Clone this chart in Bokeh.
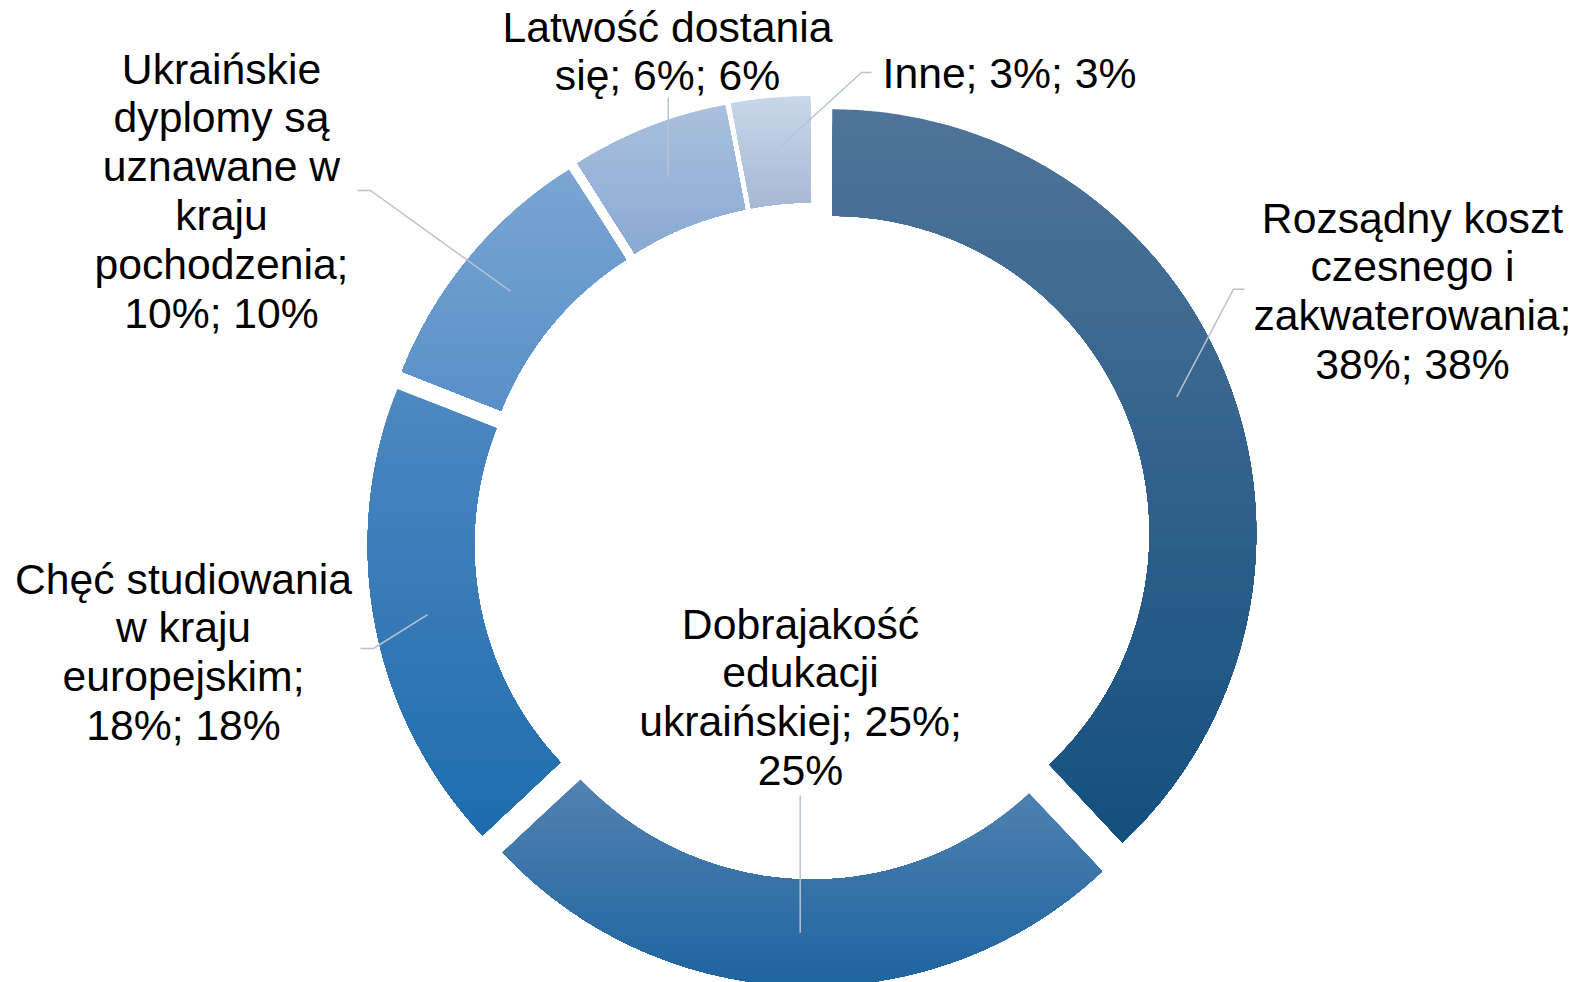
import numpy as np
from bokeh.plotting import figure
from bokeh.models import Range1d, ColumnDataSource
from bokeh.core.properties import value
from bokeh.embed import file_html
from bokeh.resources import INLINE

# ---------------- data ----------------
categories = [
    "Rozsądny koszt czesnego i zakwaterowania",
    "Dobrajakość edukacji ukraińskiej",
    "Chęć studiowania w kraju europejskim",
    "Ukraińskie dyplomy są uznawane w kraju pochodzenia",
    "Latwość dostania się",
    "Inne",
]
values = [38, 25, 18, 10, 6, 3]
# wrapped label texts as displayed ("category; value; percent")
label_templates = [
    "Rozsądny koszt\nczesnego i\nzakwaterowania;\n{v}%; {v}%",
    "Dobrajakość\nedukacji\nukraińskiej; {v}%;\n{v}%",
    "Chęć studiowania\nw kraju\neuropejskim;\n{v}%; {v}%",
    "Ukraińskie\ndyplomy są\nuznawane w\nkraju\npochodzenia;\n{v}%; {v}%",
    "Latwość dostania\nsię; {v}%; {v}%",
    "Inne; {v}%; {v}%",
]
# gradient colours (top -> bottom) per slice
top_colors = ["#4f7499", "#5282b0", "#4d88c1", "#7aa5d2", "#aac0de", "#c9d7ea"]
bottom_colors = ["#13507f", "#1d64a0", "#1e6cad", "#5890c8", "#89a9d2", "#a6b8d4"]

# ---------------- layout constants (screen pixels) ----------------
W, H = 1575, 982
CX, CY = 812.0, -540.6
R_OUT, R_IN, EXPLODE = 424.0, 317.3, 21.2
FONT = "Liberation Sans"
FSIZE = "42.7px"
LINE_H = 48.9
# label anchor: (center x, first line y) in screen px
label_pos = [(1412, 217), (800, 623), (183, 578), (221, 68), (667, 26), (1009, 72)]
# leader line start points (screen px) before the slice point
leader_starts = [
    [(1244, 288.7), (1233, 288.7)],
    [(None, 795)],
    [(360, 648), (373, 648)],
    [(357, 190), (370, 190)],
    [(None, 97)],
    [(871, 72), (861, 72)],
]


def hex2rgb(h):
    h = h.lstrip("#")
    return np.array([int(h[i:i + 2], 16) for i in (0, 2, 4)], dtype=float)


def mix(c0, c1, t):
    a, b = hex2rgb(c0), hex2rgb(c1)
    c = a + (b - a) * t
    return "#%02x%02x%02x" % tuple(int(round(v)) for v in c)


def sector(cx, cy, r0, r1, t0, t1, n=240):
    t = np.linspace(t0, t1, n)
    xo = cx + r1 * np.sin(t)
    yo = cy + r1 * np.cos(t)
    ti = t[::-1]
    xi = cx + r0 * np.sin(ti)
    yi = cy + r0 * np.cos(ti)
    return np.r_[xo, xi], np.r_[yo, yi]


def clip_below(xs, ys, yc):
    ox, oy = [], []
    n = len(xs)
    for i in range(n):
        x1, y1 = xs[i], ys[i]
        x2, y2 = xs[(i + 1) % n], ys[(i + 1) % n]
        in1, in2 = y1 <= yc, y2 <= yc
        if in1:
            ox.append(x1)
            oy.append(y1)
        if in1 != in2:
            t = (yc - y1) / (y2 - y1)
            ox.append(x1 + t * (x2 - x1))
            oy.append(yc)
    return ox, oy


total = float(sum(values))
fr = np.array(values) / total
cum = np.r_[0, np.cumsum(fr)]

p = figure(width=W, height=H, x_range=Range1d(0, W), y_range=Range1d(-H, 0),
           x_axis_type=None, y_axis_type=None, toolbar_location=None, output_backend="svg",
           title=None, min_border=0)
p.outline_line_color = None
p.background_fill_color = "white"
p.border_fill_color = "white"

band_xs, band_ys, band_cols = [], [], []
slice_pts = []
NB = 50
for i, v in enumerate(values):
    t0, t1 = 2 * np.pi * cum[i], 2 * np.pi * cum[i + 1]
    tm = 0.5 * (t0 + t1)
    cx = CX + EXPLODE * np.sin(tm)
    cy = CY + EXPLODE * np.cos(tm)
    xs, ys = sector(cx, cy, R_IN, R_OUT, t0, t1)
    ytop, ybot = ys.max(), ys.min()
    for k in range(NB):
        yc = ytop - k * (ytop - ybot) / NB
        bx, by = (list(xs), list(ys)) if k == 0 else clip_below(xs, ys, yc)
        if len(bx) < 3:
            continue
        band_xs.append(bx)
        band_ys.append(by)
        band_cols.append(mix(top_colors[i], bottom_colors[i], (k + 0.5) / NB))
    rm = 0.5 * (R_IN + R_OUT)
    slice_pts.append((cx + rm * np.sin(tm), cy + rm * np.cos(tm)))

p.patches("xs", "ys", fill_color="c", line_color=None,
          source=ColumnDataSource(dict(xs=band_xs, ys=band_ys, c=band_cols)))

# leader lines
lx, ly = [], []
for i, starts in enumerate(leader_starts):
    sx, sy = slice_pts[i]
    xs_, ys_ = [], []
    for (x0, y0) in starts:
        xs_.append(sx if x0 is None else x0)
        ys_.append(-y0)
    xs_.append(sx)
    ys_.append(sy)
    lx.append(xs_)
    ly.append(ys_)
p.multi_line(lx, ly, line_color="#b7c3d4", line_width=1.5)

# labels
tx, ty, tt = [], [], []
for i, v in enumerate(values):
    lines = label_templates[i].format(v=v).split("\n")
    x0, y0 = label_pos[i]
    for j, ln in enumerate(lines):
        tx.append(x0)
        ty.append(-(y0 + j * LINE_H))
        tt.append(ln)
p.text(tx, ty, text=tt, text_font=value(FONT), text_font_size=FSIZE, text_color="#000000",
       text_align="center", text_baseline="alphabetic")

open("out.html", "w").write(file_html(p, INLINE))
